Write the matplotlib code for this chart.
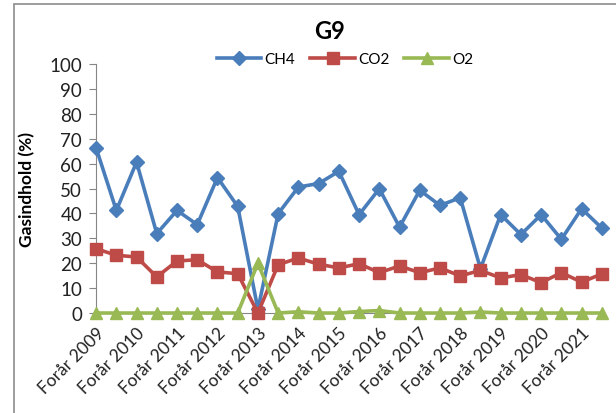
import matplotlib
matplotlib.use("Agg")
import matplotlib.pyplot as plt
from matplotlib.patches import Rectangle

plt.rcParams["font.family"] = ["Lato", "DejaVu Sans"]

# Sampling rounds, spring and autumn each year (only spring labels are shown)
years = list(range(2009, 2022))
categories = []
for y in years:
    categories += [f"Forår {y}", f"Efterår {y}"]

ch4 = [66.3, 41.2, 60.6, 31.9, 41.2, 35.5, 54.4, 42.8, 1.5, 39.9, 50.6, 52.0,
       56.9, 39.5, 49.9, 34.5, 49.3, 43.2, 46.3, 17.8, 39.5, 31.5, 39.5, 29.6,
       41.9, 34.1]
co2 = [25.8, 23.2, 22.5, 14.5, 20.9, 21.4, 16.5, 15.8, 0.0, 19.4, 22.1, 19.6,
       18.1, 19.8, 16.2, 18.9, 16.2, 18.1, 14.9, 17.1, 14.1, 15.4, 12.2, 16.2,
       12.4, 15.7]
o2 = [0, 0, 0, 0, 0, 0, 0, 0, 20.0, 0, 0.5, 0, 0, 0.6, 1.0, 0, 0, 0, 0, 0.4,
      0, 0, 0, 0, 0, 0]

blue = "#4A7EBB"
red = "#BE4B48"
green = "#98B954"
grey = "#868686"

fig = plt.figure(figsize=(6.16, 4.14), dpi=100)
ax = fig.add_axes([0.156, 0.2415, 0.821, 0.6015])

# chart border (right/bottom fall outside the crop)
fig.patches.append(Rectangle((14 / 616, -0.1), 1.2, 1 - 5 / 414 + 0.1,
                             transform=fig.transFigure, fill=False,
                             edgecolor="#8C8C8C", linewidth=1.2))

x = list(range(len(categories)))
ax.plot(x, ch4, color=blue, lw=2.6, marker="D", ms=7.5, label="CH4", clip_on=False, zorder=3)
ax.plot(x, co2, color=red, lw=2.6, marker="s", ms=8.5, label="CO2", clip_on=False, zorder=4)
ax.plot(x, o2, color=green, lw=2.6, marker="^", ms=9, label="O2", clip_on=False, zorder=5)

ax.set_xlim(0, len(categories) - 1)
ax.set_ylim(0, 100)
ax.set_yticks(range(0, 101, 10))
ax.tick_params(axis="y", direction="out", length=5, color=grey, labelsize=13.5,
               labelcolor="#222222", pad=5)
ax.set_xticks(x[::2])
ax.set_xticklabels(categories[::2], rotation=45, ha="right", rotation_mode="anchor",
                   fontsize=12.5, color="#222222")
ax.tick_params(axis="x", length=0, pad=8)

for s in ("top", "right"):
    ax.spines[s].set_visible(False)
ax.spines["left"].set_color(grey)
ax.spines["bottom"].set_color(grey)

ax.set_ylabel("Gasindhold (%)", fontsize=12.5, fontweight="bold", labelpad=10)
fig.text(0.535, 0.925, "G9", ha="center", va="center", fontsize=17, fontweight="bold")

fig.legend(loc="center", bbox_to_anchor=(0.56, 0.855), ncol=3, frameon=False, fontsize=11,
           handlelength=2.9, handletextpad=0.2, columnspacing=1.0)

fig.savefig("out.png", dpi=100)
